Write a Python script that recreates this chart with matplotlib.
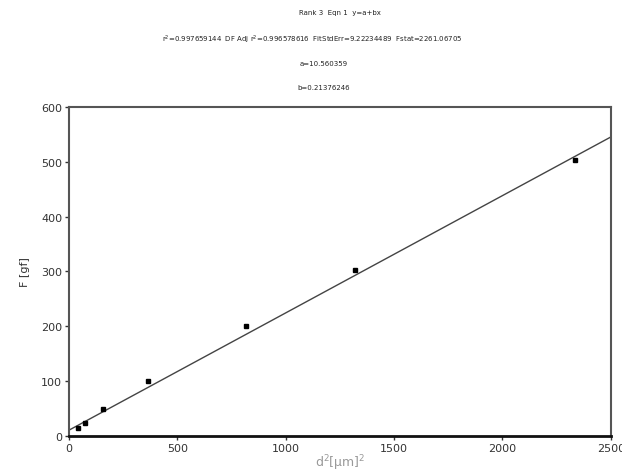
import matplotlib.pyplot as plt
import numpy as np

plt.rcParams['mathtext.default'] = 'regular'

# measured points
d2 = [42, 75, 158, 364, 818, 1320, 2335]
force = [14, 23, 49, 100, 200, 302, 503]

# fit y = a + b*x
a = 10.560359
b = 0.2137625

title_lines = ['Rank 3  Eqn 1  y=a+bx',
               r'r$^2$=0.997659144  DF Adj r$^2$=0.996578616  FitStdErr=9.22234489  Fstat=2261.06705',
               'a=10.560359',
               'b=0.21376246']

xticks = [0, 500, 1000, 1500, 2000, 2500]
yticks = [0, 100, 200, 300, 400, 500, 600]

fig = plt.figure(figsize=(6.22, 4.77), dpi=100)
ax = fig.add_axes([0.111, 0.084, 0.871, 0.690])

xfit = np.array([0, 2500])
ax.plot(xfit, a + b * xfit, color='#444444', lw=1.0)
ax.plot(d2, force, 's', color='black', markersize=2.5)

ax.set_xlim(0, 2500)
ax.set_ylim(0, 600)
ax.set_xticks(xticks)
ax.set_yticks(yticks)
ax.tick_params(direction='out', length=3, width=1, labelsize=8, colors='#333333', pad=2)

for s in ['left', 'right', 'top']:
    ax.spines[s].set_color('#555555')
    ax.spines[s].set_linewidth(1.5)
ax.spines['bottom'].set_color('#111111')
ax.spines['bottom'].set_linewidth(2)

ax.set_xlabel(r'd$^2$[µm]$^2$', fontsize=9, color='#999999', labelpad=0)
ax.set_ylabel('F [gf]', fontsize=8, color='#333333', labelpad=8)

ys = [0.972, 0.916, 0.866, 0.815]
xs = [0.547, 0.502, 0.521, 0.521]
for t, x, y in zip(title_lines, xs, ys):
    fig.text(x, y, t, ha='center', va='center', fontsize=5, color='#222222')

fig.savefig('out.png', dpi=100)
